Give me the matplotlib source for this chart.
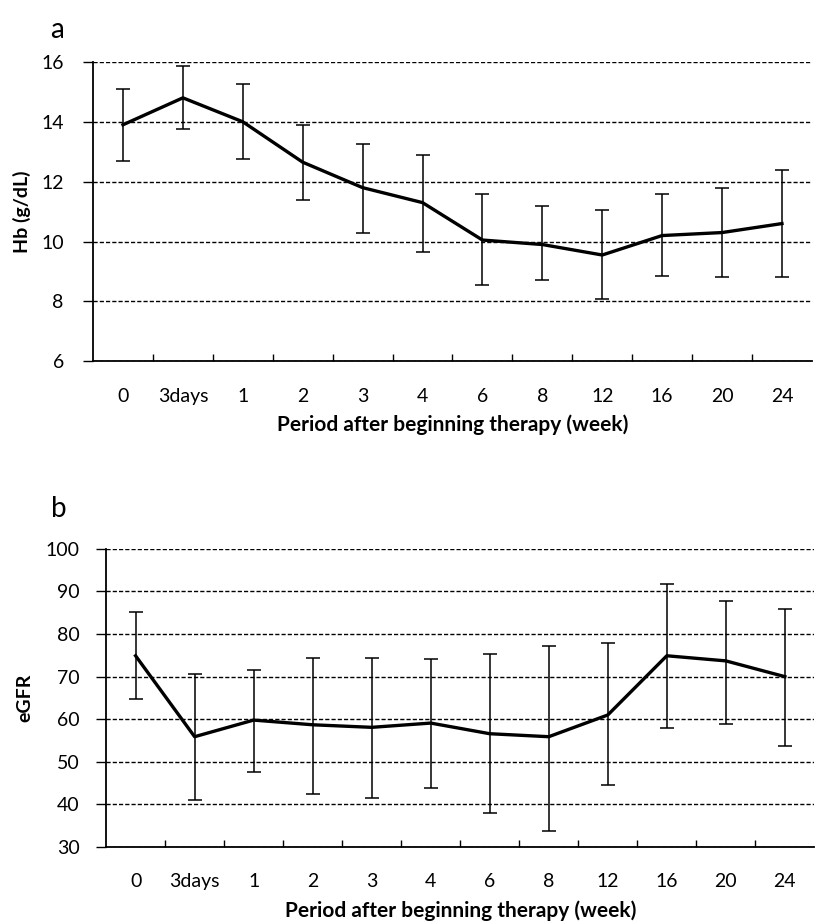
import numpy as np
import matplotlib.pyplot as plt
from matplotlib.ticker import FixedLocator

plt.rcParams['font.family'] = ['Lato', 'DejaVu Sans']

# categories (x axis)
periods = ["0", "3days", "1", "2", "3", "4", "6", "8", "12", "16", "20", "24"]

# panel a - Hb (g/dL)
hb_mean = [13.9, 14.8, 14.0, 12.65, 11.8, 11.3, 10.05, 9.9, 9.55, 10.2, 10.3, 10.6]
hb_top = [15.1, 15.85, 15.25, 13.9, 13.25, 12.9, 11.6, 11.2, 11.05, 11.6, 11.8, 12.4]
hb_bot = [12.7, 13.75, 12.75, 11.4, 10.3, 9.65, 8.55, 8.7, 8.07, 8.85, 8.8, 8.8]

# panel b - eGFR
gfr_mean = [74.9, 55.9, 59.8, 58.7, 58.1, 59.1, 56.6, 55.9, 61.0, 74.9, 73.7, 70.0]
gfr_top = [85.2, 70.6, 71.6, 74.4, 74.4, 74.1, 75.3, 77.2, 77.9, 91.8, 87.8, 85.9]
gfr_bot = [64.8, 41.1, 47.6, 42.5, 41.5, 43.9, 38.0, 33.8, 44.6, 58.0, 58.9, 53.8]

fig = plt.figure(figsize=(8.16, 9.24), dpi=100)
ax1 = fig.add_axes([0.114, 0.609, 0.881, 0.324])
ax2 = fig.add_axes([0.130, 0.0833, 0.868, 0.3227])


def draw(ax, mean, top, bot, ylim, yticks, ylabel, ypad):
    x = np.arange(len(periods))
    mean = np.array(mean)
    err = [mean - np.array(bot), np.array(top) - mean]
    ax.errorbar(x, mean, yerr=err, color='black', lw=2.4, elinewidth=1.1,
                capsize=5, capthick=1.1, zorder=3)
    ax.set_xlim(-0.5, len(periods) - 0.5)
    ax.set_ylim(*ylim)
    ax.set_yticks(yticks)
    ax.set_xticks(x)
    ax.set_xticklabels(periods)
    ax.xaxis.set_minor_locator(FixedLocator(np.arange(0.5, len(periods) - 1, 1)))
    ax.tick_params(axis='x', which='major', length=0, pad=19, labelsize=14)
    ax.tick_params(axis='x', which='minor', direction='in', length=5, width=1)
    ax.tick_params(axis='y', which='major', direction='out', length=7, width=1,
                   labelsize=14, pad=ypad)
    ax.grid(axis='y', ls=(0, (3, 1.5)), color='black', lw=1)
    for s in ['top', 'right']:
        ax.spines[s].set_visible(False)
    ax.spines['left'].set_linewidth(1.3)
    ax.spines['bottom'].set_linewidth(1.3)
    ax.set_xlabel("Period after beginning therapy (week)", fontweight='bold',
                  fontsize=15, labelpad=7)
    ax.set_ylabel(ylabel, fontweight='bold', fontsize=14)


draw(ax1, hb_mean, hb_top, hb_bot, (6, 16), [6, 8, 10, 12, 14, 16], "Hb (g/dL)", 14)
draw(ax2, gfr_mean, gfr_top, gfr_bot, (30, 100), range(30, 101, 10), "eGFR", 12)
ax1.yaxis.set_label_coords(-0.086, 0.5)
ax2.yaxis.set_label_coords(-0.103, 0.5)

fig.text(0.061, 0.967, "a", fontsize=20, ha='left', va='center')
fig.text(0.063, 0.449, "b", fontsize=20, ha='left', va='center')

fig.savefig("out.png", dpi=100)
